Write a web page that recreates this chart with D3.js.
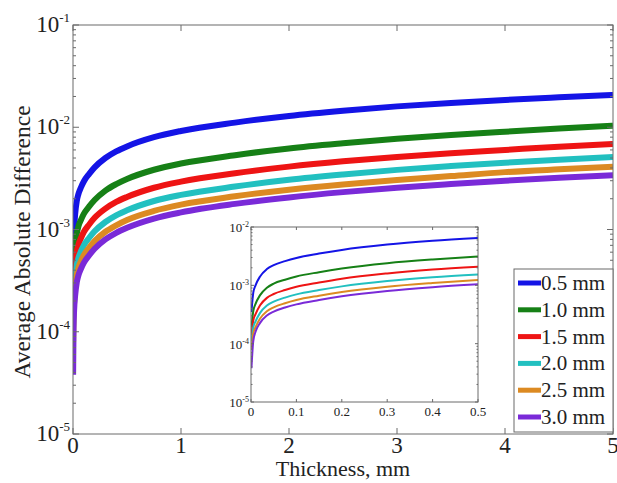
<!DOCTYPE html>
<html>
<head>
<meta charset="utf-8">
<script src="https://cdn.jsdelivr.net/npm/d3@7/dist/d3.min.js"></script>
<style>
  html, body { margin: 0; padding: 0; background: #fff; }
  svg text { font-family: "Liberation Serif", "Times New Roman", serif; fill: #222; }
</style>
</head>
<body>
<svg id="chart" width="617" height="483"></svg>
<script>
// ---- data ----
const thickness = [0.001, 0.005, 0.01, 0.02, 0.035, 0.05, 0.075, 0.1, 0.15, 0.2, 0.3, 0.4, 0.5, 0.75, 1, 1.5, 2, 2.5, 3, 3.5, 4, 4.5, 5];
const seriesLabels = ["0.5 mm", "1.0 mm", "1.5 mm", "2.0 mm", "2.5 mm", "3.0 mm"];
const seriesColors = ["#1414e6", "#168016", "#ee1414", "#22c0c0", "#dc8a22", "#7a2ad8"];
const s05 = [3.5e-4, 7.5e-4, 1.0e-3, 1.42e-3, 1.9e-3, 2.22e-3, 2.6e-3, 2.95e-3, 3.5e-3, 4.05e-3, 5.0e-3, 5.8e-3, 6.5e-3, 8.0e-3, 9.2e-3, 1.11e-2, 1.29e-2, 1.45e-2, 1.6e-2, 1.73e-2, 1.85e-2, 1.96e-2, 2.07e-2];
const s10 = [1.9e-4, 3.6e-4, 4.8e-4, 6.8e-4, 9.1e-4, 1.07e-3, 1.25e-3, 1.42e-3, 1.68e-3, 1.94e-3, 2.4e-3, 2.78e-3, 3.12e-3, 3.84e-3, 4.42e-3, 5.33e-3, 6.2e-3, 6.96e-3, 7.7e-3, 8.4e-3, 9.05e-3, 9.7e-3, 1.035e-2];
const s15 = [1.4e-4, 2.5e-4, 3.2e-4, 4.55e-4, 6.1e-4, 7.1e-4, 8.3e-4, 9.45e-4, 1.12e-3, 1.3e-3, 1.6e-3, 1.86e-3, 2.08e-3, 2.56e-3, 2.94e-3, 3.55e-3, 4.12e-3, 4.64e-3, 5.12e-3, 5.58e-3, 6.0e-3, 6.45e-3, 6.86e-3];
const s20 = [1.1e-4, 1.9e-4, 2.4e-4, 3.37e-4, 4.5e-4, 5.26e-4, 6.16e-4, 7.0e-4, 8.3e-4, 9.6e-4, 1.185e-3, 1.375e-3, 1.54e-3, 1.9e-3, 2.18e-3, 2.63e-3, 3.06e-3, 3.45e-3, 3.83e-3, 4.17e-3, 4.5e-3, 4.82e-3, 5.12e-3];
const s25 = [8.0e-5, 1.5e-4, 1.92e-4, 2.7e-4, 3.6e-4, 4.2e-4, 4.94e-4, 5.6e-4, 6.65e-4, 7.7e-4, 9.5e-4, 1.1e-3, 1.24e-3, 1.52e-3, 1.75e-3, 2.11e-3, 2.45e-3, 2.76e-3, 3.05e-3, 3.33e-3, 3.64e-3, 3.88e-3, 4.11e-3];
const s30 = [3.8e-5, 1.1e-4, 1.6e-4, 2.27e-4, 3.04e-4, 3.55e-4, 4.16e-4, 4.72e-4, 5.6e-4, 6.48e-4, 8.0e-4, 9.28e-4, 1.04e-3, 1.28e-3, 1.47e-3, 1.78e-3, 2.06e-3, 2.32e-3, 2.56e-3, 2.78e-3, 3.0e-3, 3.2e-3, 3.39e-3];
const seriesValues = [s05, s10, s15, s20, s25, s30];
const mainXTicks = [0, 1, 2, 3, 4, 5];
const insetXTicks = [0, 0.1, 0.2, 0.3, 0.4, 0.5];
const yDecades = [-1, -2, -3, -4, -5];
const insetYDecades = [-2, -3, -4, -5];

const series = seriesLabels.map((lab, i) => ({
  label: lab, color: seriesColors[i],
  points: thickness.map((t, j) => ({ x: t, y: seriesValues[i][j] }))
}));

const svg = d3.select("#chart");
const axisColor = "#6a6a6a";

function drawPanel(g, opts) {
  const { left, right, top, bottom, xDomain, yDomain, xTicks, decades, lineWidth,
          majorLen, minorLen, fontSize, supSize, supDy, xLabelDy, yLabelDx, yLabelDy, clipId, xFmt } = opts;
  const x = d3.scaleLinear().domain(xDomain).range([left, right]);
  const y = d3.scaleLog().domain(yDomain).range([bottom, top]);

  g.append("clipPath").attr("id", clipId)
    .append("rect").attr("x", left).attr("y", top).attr("width", right - left).attr("height", bottom - top);

  g.append("rect").attr("x", left).attr("y", top).attr("width", right - left).attr("height", bottom - top)
    .attr("fill", "#fff").attr("stroke", "none");

  const line = d3.line().x(d => x(d.x)).y(d => y(d.y)).curve(d3.curveMonotoneX);
  const lg = g.append("g").attr("clip-path", `url(#${clipId})`);
  series.forEach(s => {
    lg.append("path")
      .datum(s.points.filter(p => p.x <= xDomain[1] + 1e-9))
      .attr("d", line)
      .attr("fill", "none")
      .attr("stroke", s.color)
      .attr("stroke-width", lineWidth)
      .attr("stroke-linejoin", "round")
      .attr("stroke-linecap", "butt");
  });

  g.append("rect").attr("x", left).attr("y", top).attr("width", right - left).attr("height", bottom - top)
    .attr("fill", "none").attr("stroke", axisColor).attr("stroke-width", 1);

  const tg = g.append("g").attr("stroke", axisColor).attr("stroke-width", 1);
  xTicks.forEach(t => {
    const px = x(t);
    tg.append("line").attr("x1", px).attr("x2", px).attr("y1", bottom).attr("y2", bottom - majorLen);
    tg.append("line").attr("x1", px).attr("x2", px).attr("y1", top).attr("y2", top + majorLen);
  });
  const lo = Math.log10(yDomain[0]), hi = Math.log10(yDomain[1]);
  for (let e = lo; e <= hi; e++) {
    const py = y(Math.pow(10, e));
    tg.append("line").attr("x1", left).attr("x2", left + majorLen).attr("y1", py).attr("y2", py);
    tg.append("line").attr("x1", right).attr("x2", right - majorLen).attr("y1", py).attr("y2", py);
    if (e < hi) {
      for (let m = 2; m <= 9; m++) {
        const pm = y(m * Math.pow(10, e));
        tg.append("line").attr("x1", left).attr("x2", left + minorLen).attr("y1", pm).attr("y2", pm);
        tg.append("line").attr("x1", right).attr("x2", right - minorLen).attr("y1", pm).attr("y2", pm);
      }
    }
  }

  g.append("g").selectAll("text").data(xTicks).join("text")
    .attr("x", d => x(d)).attr("y", bottom + xLabelDy)
    .attr("text-anchor", "middle").attr("font-size", fontSize)
    .text(d => xFmt(d));

  const yl = g.append("g").selectAll("text").data(decades).join("text")
    .attr("x", left + yLabelDx).attr("y", d => y(Math.pow(10, d)) + yLabelDy)
    .attr("text-anchor", "end").attr("font-size", fontSize);
  yl.append("tspan").text("10");
  yl.append("tspan").attr("font-size", supSize).attr("dy", supDy).text(d => "-" + Math.abs(d));

  return { x, y };
}

// main panel
const main = svg.append("g");
drawPanel(main, {
  left: 73, right: 613, top: 25, bottom: 434,
  xDomain: [0, 5], yDomain: [1e-5, 1e-1], xTicks: mainXTicks, decades: yDecades,
  lineWidth: 6, majorLen: 6, minorLen: 3, fontSize: 23, supSize: 13, supDy: -10,
  xLabelDy: 19, yLabelDx: -3, yLabelDy: 7, clipId: "clipMain", xFmt: d => String(d)
});

// axis titles
svg.append("text").attr("x", 343).attr("y", 476).attr("text-anchor", "middle")
  .attr("font-size", 22).text("Thickness, mm");
svg.append("text").attr("transform", "translate(30,242) rotate(-90)").attr("text-anchor", "middle")
  .attr("font-size", 23.5).text("Average Absolute Difference");

// inset panel
const inset = svg.append("g");
drawPanel(inset, {
  left: 251, right: 478, top: 227, bottom: 402,
  xDomain: [0, 0.5], yDomain: [1e-5, 1e-2], xTicks: insetXTicks, decades: insetYDecades,
  lineWidth: 2, majorLen: 3, minorLen: 1.5, fontSize: 13, supSize: 8, supDy: -5,
  xLabelDy: 14, yLabelDx: -2, yLabelDy: 5, clipId: "clipInset", xFmt: d => d === 0 ? "0" : d3.format(".1f")(d)
});

// legend
const legX = 514, legY = 269, legW = 99, legH = 163, rowH = 26.8;
const leg = svg.append("g");
leg.append("rect").attr("x", legX).attr("y", legY).attr("width", legW).attr("height", legH)
  .attr("fill", "#fff").attr("stroke", axisColor).attr("stroke-width", 1);
series.forEach((s, i) => {
  const cy = legY + 14 + i * rowH;
  leg.append("line").attr("x1", legX + 4).attr("x2", legX + 27).attr("y1", cy).attr("y2", cy)
    .attr("stroke", s.color).attr("stroke-width", 5);
  leg.append("text").attr("x", legX + 27).attr("y", cy + 7).attr("font-size", 21).text(s.label);
});
</script>
</body>
</html>
